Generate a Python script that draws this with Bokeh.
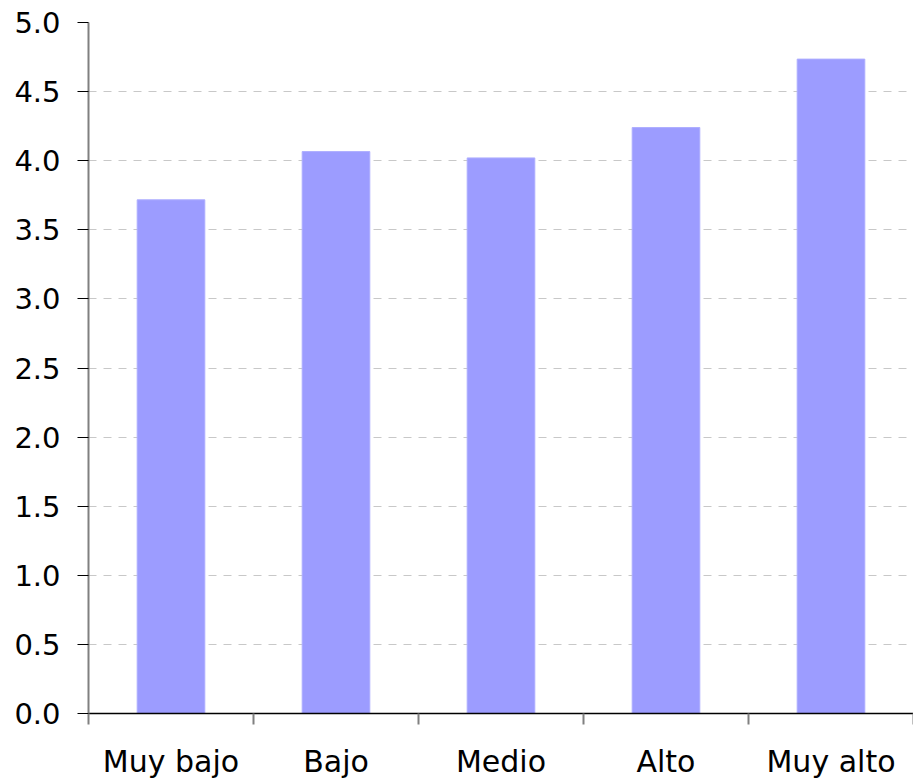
from bokeh.plotting import figure
from bokeh.models import (LinearAxis, CategoricalAxis, FixedTicker, Range1d,
                          NumeralTickFormatter)
from bokeh.embed import file_html
from bokeh.resources import INLINE

categories = ["Muy bajo", "Bajo", "Medio", "Alto", "Muy alto"]
values = [3.717, 4.066, 4.02, 4.24, 4.735]
y_ticks = [0.0, 0.5, 1.0, 1.5, 2.0, 2.5, 3.0, 3.5, 4.0, 4.5, 5.0]

FONT = "DejaVu Sans"

p = figure(x_range=categories, y_range=Range1d(0, 5),
           width=913, height=781, output_backend="svg", toolbar_location=None,
           x_axis_location=None, y_axis_location=None,
           min_border_left=88, min_border_right=0, min_border_top=22,
           min_border_bottom=0)
p.outline_line_color = None
p.background_fill_color = "white"
p.border_fill_color = "white"

p.vbar(x=categories, top=values, width=0.41, bottom=0,
       fill_color="#9c9cff", line_color="#aeaeff", line_width=1)

# y axis
yax = LinearAxis(ticker=FixedTicker(ticks=y_ticks),
                 formatter=NumeralTickFormatter(format="0.0"))
yax.axis_line_color = "#808080"
yax.axis_line_width = 2
yax.major_tick_line_color = "black"
yax.major_tick_out = 11
yax.major_tick_in = 0
yax.minor_tick_line_color = None
yax.major_label_text_font = FONT
yax.major_label_text_font_size = "29px"
yax.major_label_text_color = "black"
yax.major_label_standoff = 17
p.add_layout(yax, "left")

# x axis: boundary ticks (no labels)
xticks_ax = LinearAxis(ticker=FixedTicker(ticks=list(range(len(categories) + 1))))
xticks_ax.axis_line_color = "black"
xticks_ax.axis_line_width = 1.5
xticks_ax.major_tick_line_color = "#808080"
xticks_ax.major_tick_line_width = 2
xticks_ax.major_tick_out = 11
xticks_ax.major_tick_in = 0
xticks_ax.minor_tick_line_color = None
xticks_ax.major_label_text_font_size = "0px"
xticks_ax.major_label_text_color = None
xticks_ax.major_label_standoff = 0
p.add_layout(xticks_ax, "below")

# x axis: category labels
xlab = CategoricalAxis()
xlab.axis_line_color = None
xlab.major_tick_line_color = None
xlab.minor_tick_line_color = None
xlab.major_label_text_font = FONT
xlab.major_label_text_font_size = "30px"
xlab.major_label_text_color = "black"
xlab.major_label_standoff = 13
p.add_layout(xlab, "below")

# grid
p.xgrid.grid_line_color = None
p.ygrid.ticker = FixedTicker(ticks=y_ticks)
p.ygrid.grid_line_color = "#c8c8c8"
p.ygrid.grid_line_dash = "8 7"
p.ygrid.grid_line_width = 1

open("out.html", "w").write(file_html(p, INLINE))
